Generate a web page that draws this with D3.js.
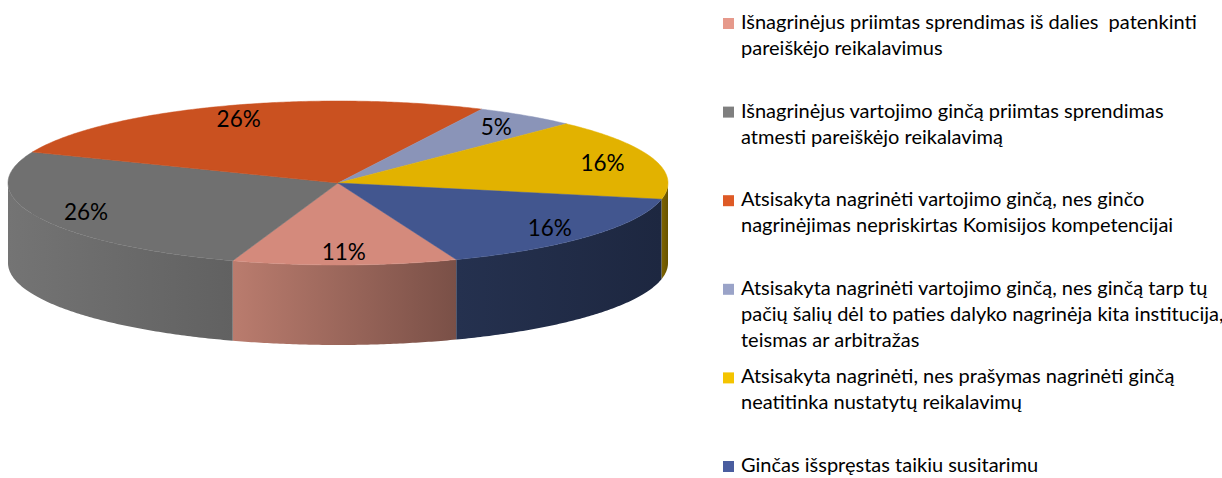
<!DOCTYPE html>
<html>
<head>
<meta charset="utf-8">
<script src="https://cdn.jsdelivr.net/npm/d3@7"></script>
<style>
body { margin: 0; background: #fff; }
svg text { font-family: Lato, "Open Sans", sans-serif; fill: #000; white-space: pre; }
</style>
</head>
<body>
<svg id="chart" width="1222" height="478"></svg>
<script>
// legend texts (line breaks as in the original legend)
var categories = [
	"Išnagrinėjus priimtas sprendimas iš dalies  patenkinti\npareiškėjo reikalavimus",
	"Išnagrinėjus vartojimo ginčą priimtas sprendimas\natmesti pareiškėjo reikalavimą",
	"Atsisakyta nagrinėti vartojimo ginčą, nes ginčo\nnagrinėjimas nepriskirtas Komisijos kompetencijai",
	"Atsisakyta nagrinėti vartojimo ginčą, nes ginčą tarp tų\npačių šalių dėl to paties dalyko nagrinėja kita institucija,\nteismas ar arbitražas",
	"Atsisakyta nagrinėti, nes prašymas nagrinėti ginčą\nneatitinka nustatytų reikalavimų",
	"Ginčas išspręstas taikiu susitarimu"
];
var values = [11, 26, 26, 5, 16, 16];

var legendColors = ["#e6998b", "#7f7f7f", "#de5a26", "#9aa3c8", "#f4c400", "#4a5d9f"];
var topColors = ["#d48a7c", "#707070", "#ca5120", "#8a94b8", "#e2b200", "#42568f"];
var sideColors = [
	["#ba7c6e", "#7a5047"],
	["#747474", "#616161"],
	["#8a3a16", "#6a2c10"],
	["#5e6684", "#4a5068"],
	["#806500", "#665200"],
	["#25314f", "#1d2740"]
];

var svg = d3.select("#chart");
var defs = svg.append("defs");

var cx = 338, cy = 183, rx = 330, ry = 82, depth = 80;
var x = d3.scaleLinear().domain([-1, 1]).range([cx - rx, cx + rx]);
var y = d3.scaleLinear().domain([-1, 1]).range([cy - ry, cy + ry]);

var start = 159 * Math.PI / 180;
var pie = d3.pie().sort(null).startAngle(start).endAngle(start + 2 * Math.PI);
var arcs = pie(values);

function pt(a, level, f) {
	f = f == null ? 1 : f;
	return [x(Math.sin(a) * f), y(-Math.cos(a) * f) + level * depth];
}

function sample(a0, a1, level) {
	var n = Math.max(2, Math.ceil(Math.abs(a1 - a0) / 0.01));
	return d3.range(n + 1).map(function(i) {
		return pt(a0 + (a1 - a0) * i / n, level);
	});
}

var line = d3.line();

// front parts of each slice (between 90 and 270 degrees)
function frontRanges(a0, a1) {
	var out = [];
	[0, 1].forEach(function(k) {
		var lo = Math.PI / 2 + 2 * Math.PI * k, hi = 3 * Math.PI / 2 + 2 * Math.PI * k;
		var s = Math.max(a0, lo), e = Math.min(a1, hi);
		if (e > s) out.push([s, e]);
	});
	return out;
}

var sides = svg.append("g").attr("class", "sides");
arcs.forEach(function(d, i) {
	frontRanges(d.startAngle, d.endAngle).forEach(function(r, j) {
		var id = "side" + i + "_" + j;
		var grad = defs.append("linearGradient")
			.attr("id", id)
			.attr("x1", 0).attr("x2", 1).attr("y1", 0).attr("y2", 0);
		grad.append("stop").attr("offset", 0).attr("stop-color", sideColors[i][0]);
		grad.append("stop").attr("offset", 1).attr("stop-color", sideColors[i][1]);

		var pts = sample(r[0], r[1], 0).concat(sample(r[1], r[0], 1));
		sides.append("path")
			.attr("d", line(pts) + "Z")
			.attr("fill", "url(#" + id + ")");
	});
});

var tops = svg.append("g").attr("class", "tops");
arcs.forEach(function(d, i) {
	var pts = [[x(0), y(0)]].concat(sample(d.startAngle, d.endAngle, 0));
	tops.append("path")
		.attr("d", line(pts) + "Z")
		.attr("fill", topColors[i])
		.attr("stroke", topColors[i])
		.attr("stroke-width", 0.5);
});

// percentage labels
svg.append("g").selectAll("text")
	.data(arcs)
	.enter().append("text")
	.attr("x", function(d) { return pt((d.startAngle + d.endAngle) / 2, 0, 0.84)[0]; })
	.attr("y", function(d) { return pt((d.startAngle + d.endAngle) / 2, 0, 0.84)[1]; })
	.attr("text-anchor", "middle")
	.attr("dominant-baseline", "central")
	.attr("font-size", 22.5)
	.text(function(d) { return d.value + "%"; });

// legend
var legend = svg.append("g").attr("class", "legend");
categories.forEach(function(c, i) {
	var base = 29 + i * 88.6;
	legend.append("rect")
		.attr("x", 723)
		.attr("y", base - 11)
		.attr("width", 11)
		.attr("height", 11)
		.attr("fill", legendColors[i]);
	var t = legend.append("text")
		.attr("x", 741)
		.attr("y", base)
		.attr("font-size", 20);
	c.split("\n").forEach(function(s, k) {
		t.append("tspan")
			.attr("x", 741)
			.attr("dy", k ? 26 : 0)
			.text(s);
	});
});
</script>
</body>
</html>
